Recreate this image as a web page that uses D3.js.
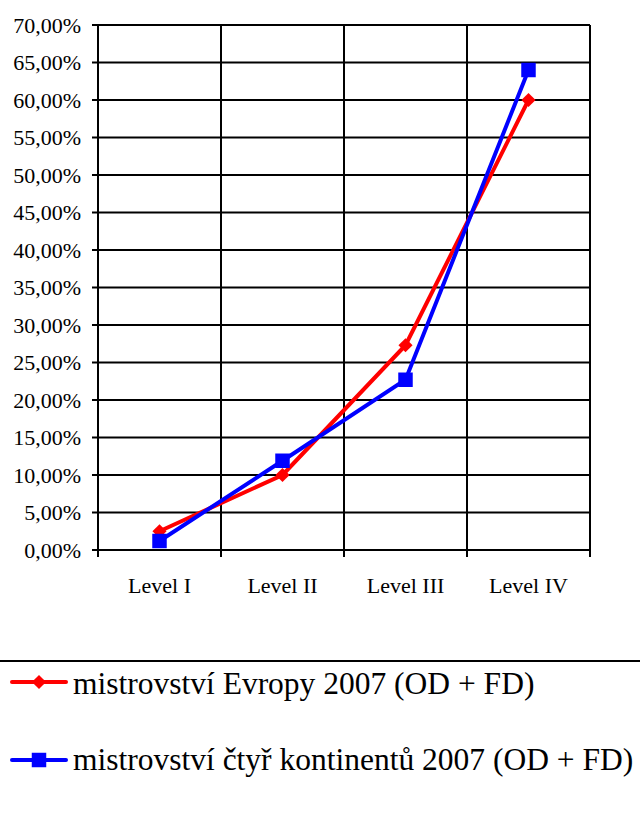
<!DOCTYPE html>
<html>
<head>
<meta charset="utf-8">
<script src="https://cdn.jsdelivr.net/npm/d3@7"></script>
<style>
  body { margin: 0; background: #fff; }
</style>
</head>
<body>
<svg id="chart" width="640" height="818"></svg>
<script>
// data
var levels = ['Level I', 'Level II', 'Level III', 'Level IV'];
var evropa = [2.5, 10, 27.3, 60];
var kontinenty = [1.2, 11.9, 22.7, 64];
var yTicks = d3.range(0, 70.01, 5);
var seriesNames = ['mistrovství Evropy 2007 (OD + FD)', 'mistrovství čtyř kontinentů 2007 (OD + FD)'];

var plotLeft = 98, plotRight = 590, plotTop = 25, plotBottom = 550;
var serif = "'Liberation Serif', 'Times New Roman', serif";
var svg = d3.select('#chart');

var x = d3.scaleBand().domain(levels).range([plotLeft, plotRight]);
var y = d3.scaleLinear().domain([0, 70]).range([plotBottom, plotTop]);

// horizontal grid + y ticks
svg.append('g')
  .selectAll('line')
  .data(yTicks)
  .enter()
  .append('line')
  .attr('x1', plotLeft - 6)
  .attr('x2', plotRight)
  .attr('y1', function (d) { return y(d); })
  .attr('y2', function (d) { return y(d); })
  .attr('stroke', '#000')
  .attr('stroke-width', 2);

// vertical grid at category borders
var xEdges = levels.map(function (d) { return x(d); }).concat([plotRight]);
svg.append('g')
  .selectAll('line')
  .data(xEdges)
  .enter()
  .append('line')
  .attr('x1', function (d) { return d; })
  .attr('x2', function (d) { return d; })
  .attr('y1', plotTop)
  .attr('y2', plotBottom + 7)
  .attr('stroke', '#000')
  .attr('stroke-width', 2);

// y labels
svg.append('g')
  .selectAll('text')
  .data(yTicks)
  .enter()
  .append('text')
  .attr('x', 81)
  .attr('y', function (d) { return y(d) + 7.5; })
  .attr('text-anchor', 'end')
  .attr('font-family', serif)
  .attr('font-size', 22)
  .text(function (d) { return d.toFixed(2).replace('.', ',') + '%'; });

// x labels
svg.append('g')
  .selectAll('text')
  .data(levels)
  .enter()
  .append('text')
  .attr('x', function (d) { return x(d) + x.bandwidth() / 2; })
  .attr('y', 593)
  .attr('text-anchor', 'middle')
  .attr('font-family', serif)
  .attr('font-size', 22)
  .text(function (d) { return d; });

var line = d3.line()
  .x(function (d, i) { return x(levels[i]) + x.bandwidth() / 2; })
  .y(function (d) { return y(d); });

// diamond = square turned 45deg, square = plain square
function marker(sel, kind, cx, cy) {
  var size = kind === 'square' ? 210 : 100;
  sel.attr('transform', 'translate(' + cx + ',' + cy + ')' + (kind === 'diamond' ? ' rotate(45)' : ''))
    .attr('d', d3.symbol().type(d3.symbolSquare).size(size));
}

function drawSeries(values, color, kind) {
  svg.append('path')
    .datum(values)
    .attr('d', line)
    .attr('fill', 'none')
    .attr('stroke', color)
    .attr('stroke-width', 4);

  svg.append('g')
    .selectAll('path')
    .data(values)
    .enter()
    .append('path')
    .attr('fill', color)
    .each(function (d, i) {
      marker(d3.select(this), kind, x(levels[i]) + x.bandwidth() / 2, y(d));
    });
}

drawSeries(evropa, '#ff0000', 'diamond');
drawSeries(kontinenty, '#0000ff', 'square');

// legend
svg.append('line')
  .attr('x1', 0).attr('x2', 640)
  .attr('y1', 661).attr('y2', 661)
  .attr('stroke', '#000')
  .attr('stroke-width', 2);

var legendRows = [
  { name: seriesNames[0], color: '#ff0000', kind: 'diamond', y: 682, base: 694 },
  { name: seriesNames[1], color: '#0000ff', kind: 'square', y: 760, base: 770 }
];

legendRows.forEach(function (r) {
  svg.append('line')
    .attr('x1', 12).attr('x2', 66)
    .attr('y1', r.y).attr('y2', r.y)
    .attr('stroke', r.color)
    .attr('stroke-width', 4)
    .attr('stroke-linecap', 'round');
  svg.append('path')
    .attr('fill', r.color)
    .call(marker, r.kind, 39, r.y);
  svg.append('text')
    .attr('x', 73)
    .attr('y', r.base)
    .attr('font-family', serif)
    .attr('font-size', 31.5)
    .text(r.name);
});
</script>
</body>
</html>
